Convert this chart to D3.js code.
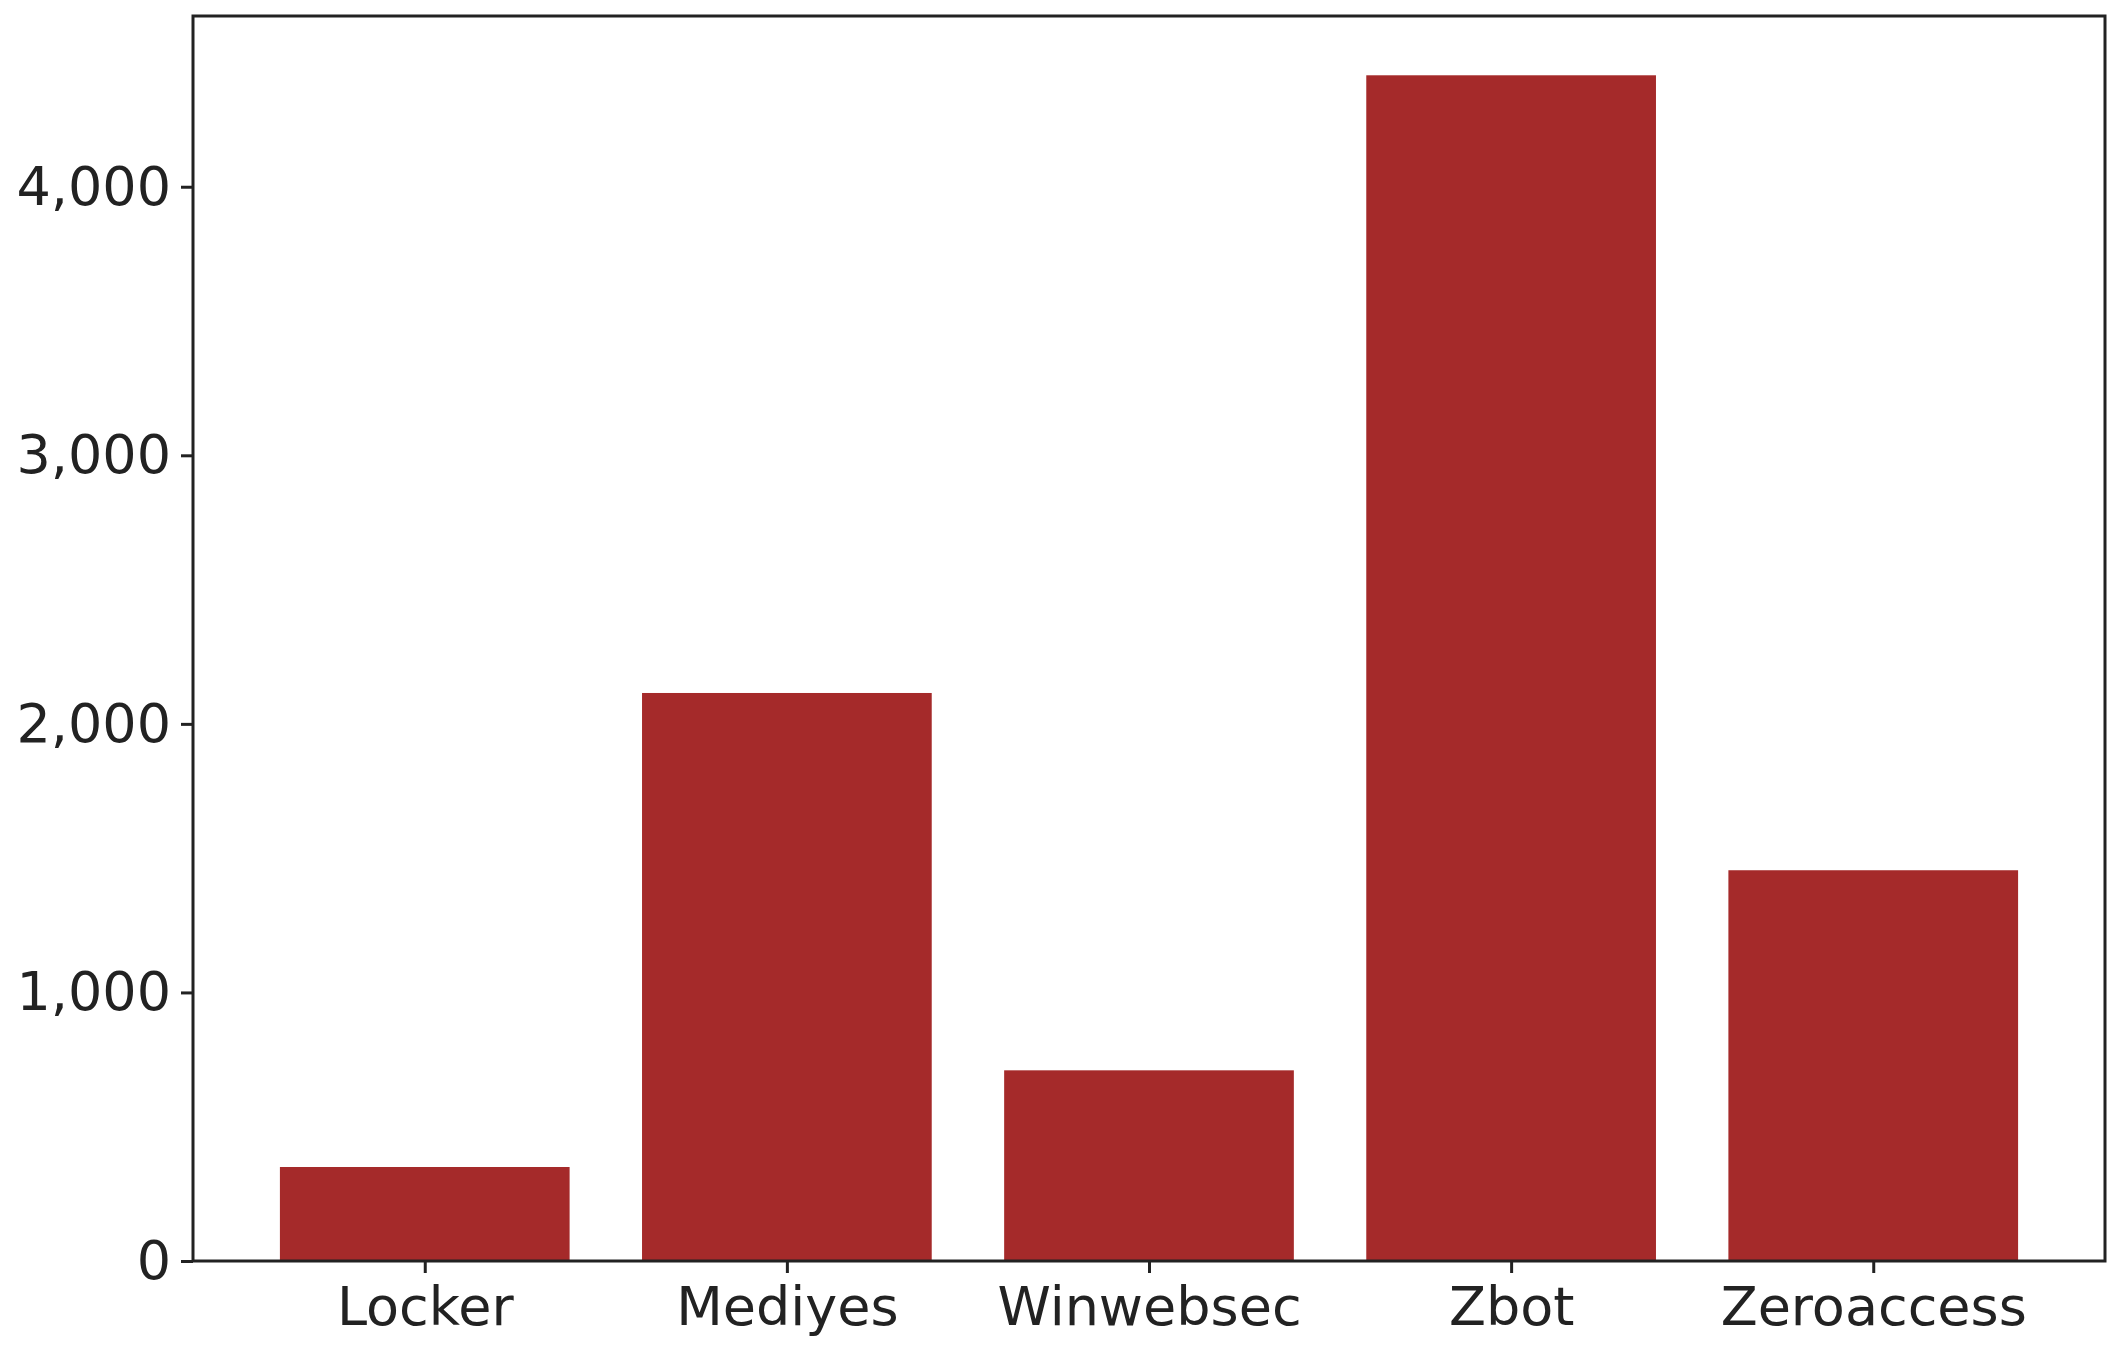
<!DOCTYPE html>
<html>
<head>
<meta charset="utf-8">
<script src="https://cdn.jsdelivr.net/npm/d3@7"></script>
<style>
body { margin: 0; background: #fff; }
.tick text { font-family: "DejaVu Sans", sans-serif; font-size: 54px; fill: #222; }
</style>
</head>
<body>
<svg id="svgMain" width="2124" height="1362"></svg>
<script>
// chart values
const families = ["Locker", "Mediyes", "Winwebsec", "Zbot", "Zeroaccess"];
const counts = [350, 2115, 710, 4415, 1455];
const yTicks = [0, 1000, 2000, 3000, 4000];

let svgMain = d3.select("#svgMain");
let margin = { top: 16, right: 19, bottom: 101, left: 193 };
const plotWidth = 2124 - margin.left - margin.right;
const plotHeight = 1362 - margin.top - margin.bottom;

// matplotlib-like limits: bars of width 0.8, 5% margins
const barW = 0.8;
const xPad = (families.length - 1 + barW) * 0.05;
const xScale = d3.scaleLinear()
    .domain([-barW / 2 - xPad, families.length - 1 + barW / 2 + xPad])
    .range([0, plotWidth]);

const yMax = d3.max(counts) * 1.05;
const yScale = d3.scaleLinear()
    .domain([0, yMax])
    .range([plotHeight, 0]);

const plot = svgMain.append("g")
    .attr("transform", "translate(" + margin.left + "," + margin.top + ")");

plot.selectAll("rect.bar")
    .data(counts)
    .enter().append("rect")
    .attr("class", "bar")
    .attr("x", (d, i) => xScale(i - barW / 2))
    .attr("width", (d, i) => xScale(barW) - xScale(0))
    .attr("y", d => yScale(d))
    .attr("height", d => plotHeight - yScale(d))
    .style("fill", "#a52a2a");

//Axis
let xAxis = d3.axisBottom(xScale)
    .tickValues(d3.range(families.length))
    .tickFormat(i => families[i])
    .tickSize(12).tickPadding(14);
plot.append("g")
    .attr("transform", "translate(0," + plotHeight + ")")
    .call(xAxis)
    .call(g => g.select(".domain").remove());

let yAxis = d3.axisLeft(yScale)
    .tickValues(yTicks)
    .tickSize(12).tickPadding(10);
plot.append("g")
    .call(yAxis)
    .call(g => g.select(".domain").remove());

plot.selectAll(".tick line").style("stroke", "#222").style("stroke-width", 3);

// frame
plot.append("rect")
    .attr("width", plotWidth)
    .attr("height", plotHeight)
    .style("fill", "none")
    .style("stroke", "#222")
    .style("stroke-width", 3);
</script>
</body>
</html>
